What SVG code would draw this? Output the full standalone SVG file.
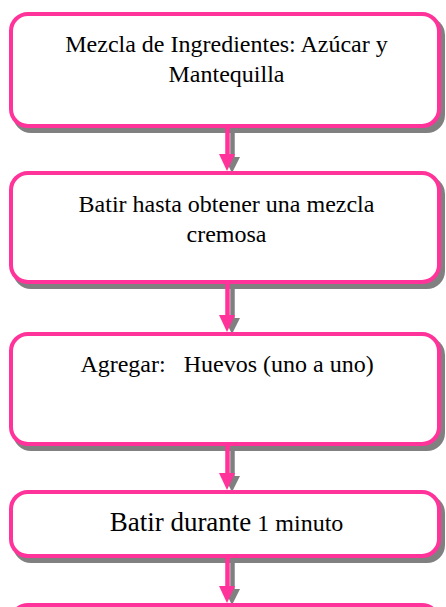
<svg xmlns="http://www.w3.org/2000/svg" width="446" height="607" viewBox="0 0 446 607">
<style>
.box{fill:#fff;stroke:#FF3399;stroke-width:4}
.shd{fill:#808080}
.t{font-family:"Liberation Serif","Times New Roman",serif;font-size:24px;fill:#000;text-anchor:middle}
.big{font-size:27px}
.sh{stroke:#808080;stroke-width:4.5;fill:none}
.ps{stroke:#FF3399;stroke-width:4.5;fill:none}
.ph{fill:#FF3399}
.gh{fill:#808080}
</style>
<g id="shadows">
<rect class="shd" x="13" y="17" width="432" height="116" rx="18"/>
<rect class="shd" x="13" y="176" width="432" height="113" rx="18"/>
<rect class="shd" x="13" y="337" width="432" height="114" rx="18"/>
<rect class="shd" x="13" y="495" width="432" height="68" rx="18"/>
<rect class="shd" x="13" y="608" width="432" height="60" rx="18"/>
</g>
<g id="connectors">
<line class="sh" x1="232.5" y1="128" x2="232.5" y2="158"/>
<polygon class="gh" points="224,157 240,157 232,173"/>
<line class="ps" x1="227.5" y1="126" x2="227.5" y2="156"/>
<polygon class="ph" points="219,154 235,154 227,171"/>

<line class="sh" x1="232.5" y1="284" x2="232.5" y2="318"/>
<polygon class="gh" points="224,318 240,318 232,334"/>
<line class="ps" x1="227.5" y1="282" x2="227.5" y2="317"/>
<polygon class="ph" points="219,315 235,315 227,332"/>

<line class="sh" x1="232.5" y1="446" x2="232.5" y2="476"/>
<polygon class="gh" points="224,476 240,476 232,492"/>
<line class="ps" x1="227.5" y1="444" x2="227.5" y2="475"/>
<polygon class="ph" points="219,473 235,473 227,490"/>

<line class="sh" x1="232.5" y1="558" x2="232.5" y2="589"/>
<polygon class="gh" points="224,589 240,589 232,605"/>
<line class="ps" x1="227.5" y1="556" x2="227.5" y2="588"/>
<polygon class="ph" points="219,586 235,586 227,603"/>
</g>
<g id="n1">
<rect class="box" x="11" y="14" width="428" height="112" rx="17"/>
<text class="t" x="226.5" y="52">Mezcla de Ingredientes: Azúcar y</text>
<text class="t" x="226.5" y="82">Mantequilla</text>
</g>
<g id="n2">
<rect class="box" x="11" y="173" width="428" height="109" rx="17"/>
<text class="t" x="226.5" y="212">Batir hasta obtener una mezcla</text>
<text class="t" x="226.5" y="242">cremosa</text>
</g>
<g id="n3">
<rect class="box" x="11" y="334" width="428" height="110" rx="17"/>
<text class="t" x="227" y="372" xml:space="preserve">Agregar:   Huevos (uno a uno)</text>
</g>
<g id="n4">
<rect class="box" x="11" y="492" width="428" height="64" rx="17"/>
<text class="t" x="226.5" y="531"><tspan class="big">Batir durante</tspan> 1 minuto</text>
</g>
<g id="n5">
<rect class="box" x="11" y="605" width="428" height="60" rx="17"/>
</g>
</svg>
